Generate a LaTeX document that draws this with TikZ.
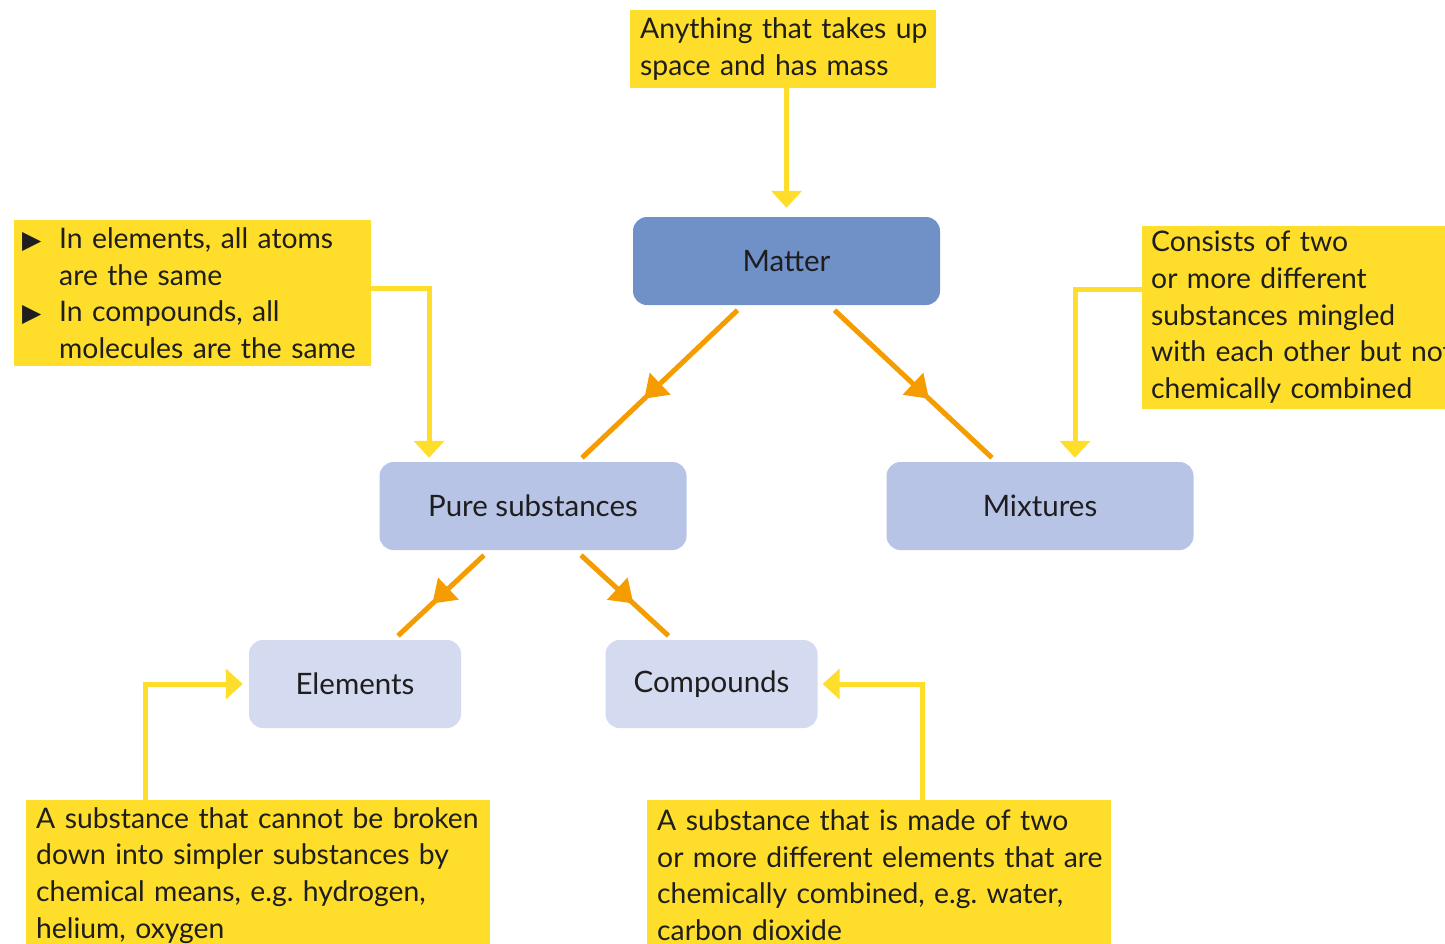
\documentclass[tikz,border=0pt]{standalone}
\usepackage{fontspec}
\setmainfont{Lato}
\newfontfamily\symfont{DejaVu Sans}
\usetikzlibrary{arrows.meta,decorations.markings}
\definecolor{notefill}{HTML}{FFDD2B}
\definecolor{linkorange}{HTML}{F59D00}
\definecolor{topblue}{HTML}{7090C8}
\definecolor{midblue}{HTML}{B8C4E6}
\definecolor{lowblue}{HTML}{D4DAEF}
\definecolor{ink}{HTML}{1E1E1E}
\newcommand{\tri}{\makebox[37pt][l]{\symfont\fontsize{25}{25}\selectfont ▶}}
\newcommand{\ind}{\hspace*{37pt}}
% one unbreakable line of a note
\newcommand{\noteln}[1]{\mbox{#1}}
\tikzset{
  concept/.style={rounded corners=14pt, minimum width=307pt, minimum height=88pt, text=ink,
    font=\fontsize{29.5}{36.7}\selectfont},
  subconcept/.style={rounded corners=14pt, minimum width=212pt, minimum height=88pt, fill=lowblue, text=ink,
    font=\fontsize{29.5}{36.7}\selectfont},
  note/.style={fill=notefill, anchor=north west, inner xsep=10pt, inner ysep=5pt, align=left, text=ink},
  noteline/.style={draw=notefill, line width=5pt, -{Triangle[length=17pt,width=30pt]}},
  branch/.style={draw=linkorange, line width=5pt,
    postaction={decorate},
    decoration={markings, mark=at position 0.6 with {\arrow{Triangle[length=22pt,width=29pt]}}}}
}
\begin{document}
\frenchspacing
\hbadness=10000 \hfuzz=500pt
\begin{tikzpicture}[x=1pt, y=-1pt, font=\fontsize{28.3}{36.7}\selectfont]
\useasboundingbox (0,0) rectangle (1445,943);
\clip (0,0) rectangle (1445,943);

% concept boxes
\node[concept, fill=topblue] (matter) at (786.5,261) {Matter};
\node[concept, fill=midblue] (pure) at (533,506) {Pure substances};
\node[concept, fill=midblue] (mixtures) at (1040,506) {Mixtures};
\node[subconcept] (elements) at (355,684) {Elements};
\node[subconcept] (compounds) at (711.5,684) {Compounds};

% definition notes
\node[note, text width=286pt, minimum height=78pt] (massdef) at (630,10)
  {\noteln{Anything that takes up}\\\noteln{space and has mass}};
\node[note, inner xsep=8pt, text width=341pt, minimum height=146pt] (puredef) at (14,220)
  {\noteln{\tri In elements, all atoms}\\\noteln{\ind are the same}\\\noteln{\tri In compounds, all}\\\noteln{\ind molecules are the same}};
\node[note, inner xsep=9pt, text width=320pt, minimum height=180pt] (mixdef) at (1142,226)
  {\noteln{Consists of two}\\\noteln{or more different}\\\noteln{substances mingled}\\\noteln{with each other but not}\\\noteln{chemically combined}};
\node[note, text width=444pt, minimum height=150pt] (eldef) at (26,800)
  {\noteln{A substance that cannot be broken}\\\noteln{down into simpler substances by}\\\noteln{chemical means, e.g. hydrogen,}\\\noteln{helium, oxygen}};
\node[note, text width=444pt, minimum height=150pt] (cmpdef) at (647,800)
  {\noteln{A substance that is made of two}\\\noteln{or more different elements that are}\\\noteln{chemically combined, e.g. water,}\\\noteln{carbon dioxide}};

% classification branches
\draw[branch] ([xshift=-49pt,yshift=-5pt]matter.south) -- ([xshift=49pt,yshift=4pt]pure.north);
\draw[branch] ([xshift=48pt,yshift=-5pt]matter.south) -- ([xshift=-48pt,yshift=4pt]mixtures.north);
\draw[branch] ([xshift=-49pt,yshift=-5pt]pure.south) -- ([xshift=43pt,yshift=4pt]elements.north);
\draw[branch] ([xshift=48pt,yshift=-5pt]pure.south) -- ([xshift=-43pt,yshift=4pt]compounds.north);

% note connectors
\draw[noteline, shorten >=9pt] (massdef.south -| matter.north) -- (matter.north);
\draw[noteline, shorten >=4pt] ([yshift=5pt]puredef.east) -| ([xshift=-104pt]pure.north);
\draw[noteline, shorten >=4pt] ([yshift=28pt]mixdef.west) -| ([xshift=35pt]mixtures.north);
\draw[noteline, shorten >=6pt] ([xshift=119pt]eldef.north west) |- (elements.west);
\draw[noteline, shorten >=5pt] ([xshift=275pt]cmpdef.north west) |- (compounds.east);
\end{tikzpicture}
\end{document}
